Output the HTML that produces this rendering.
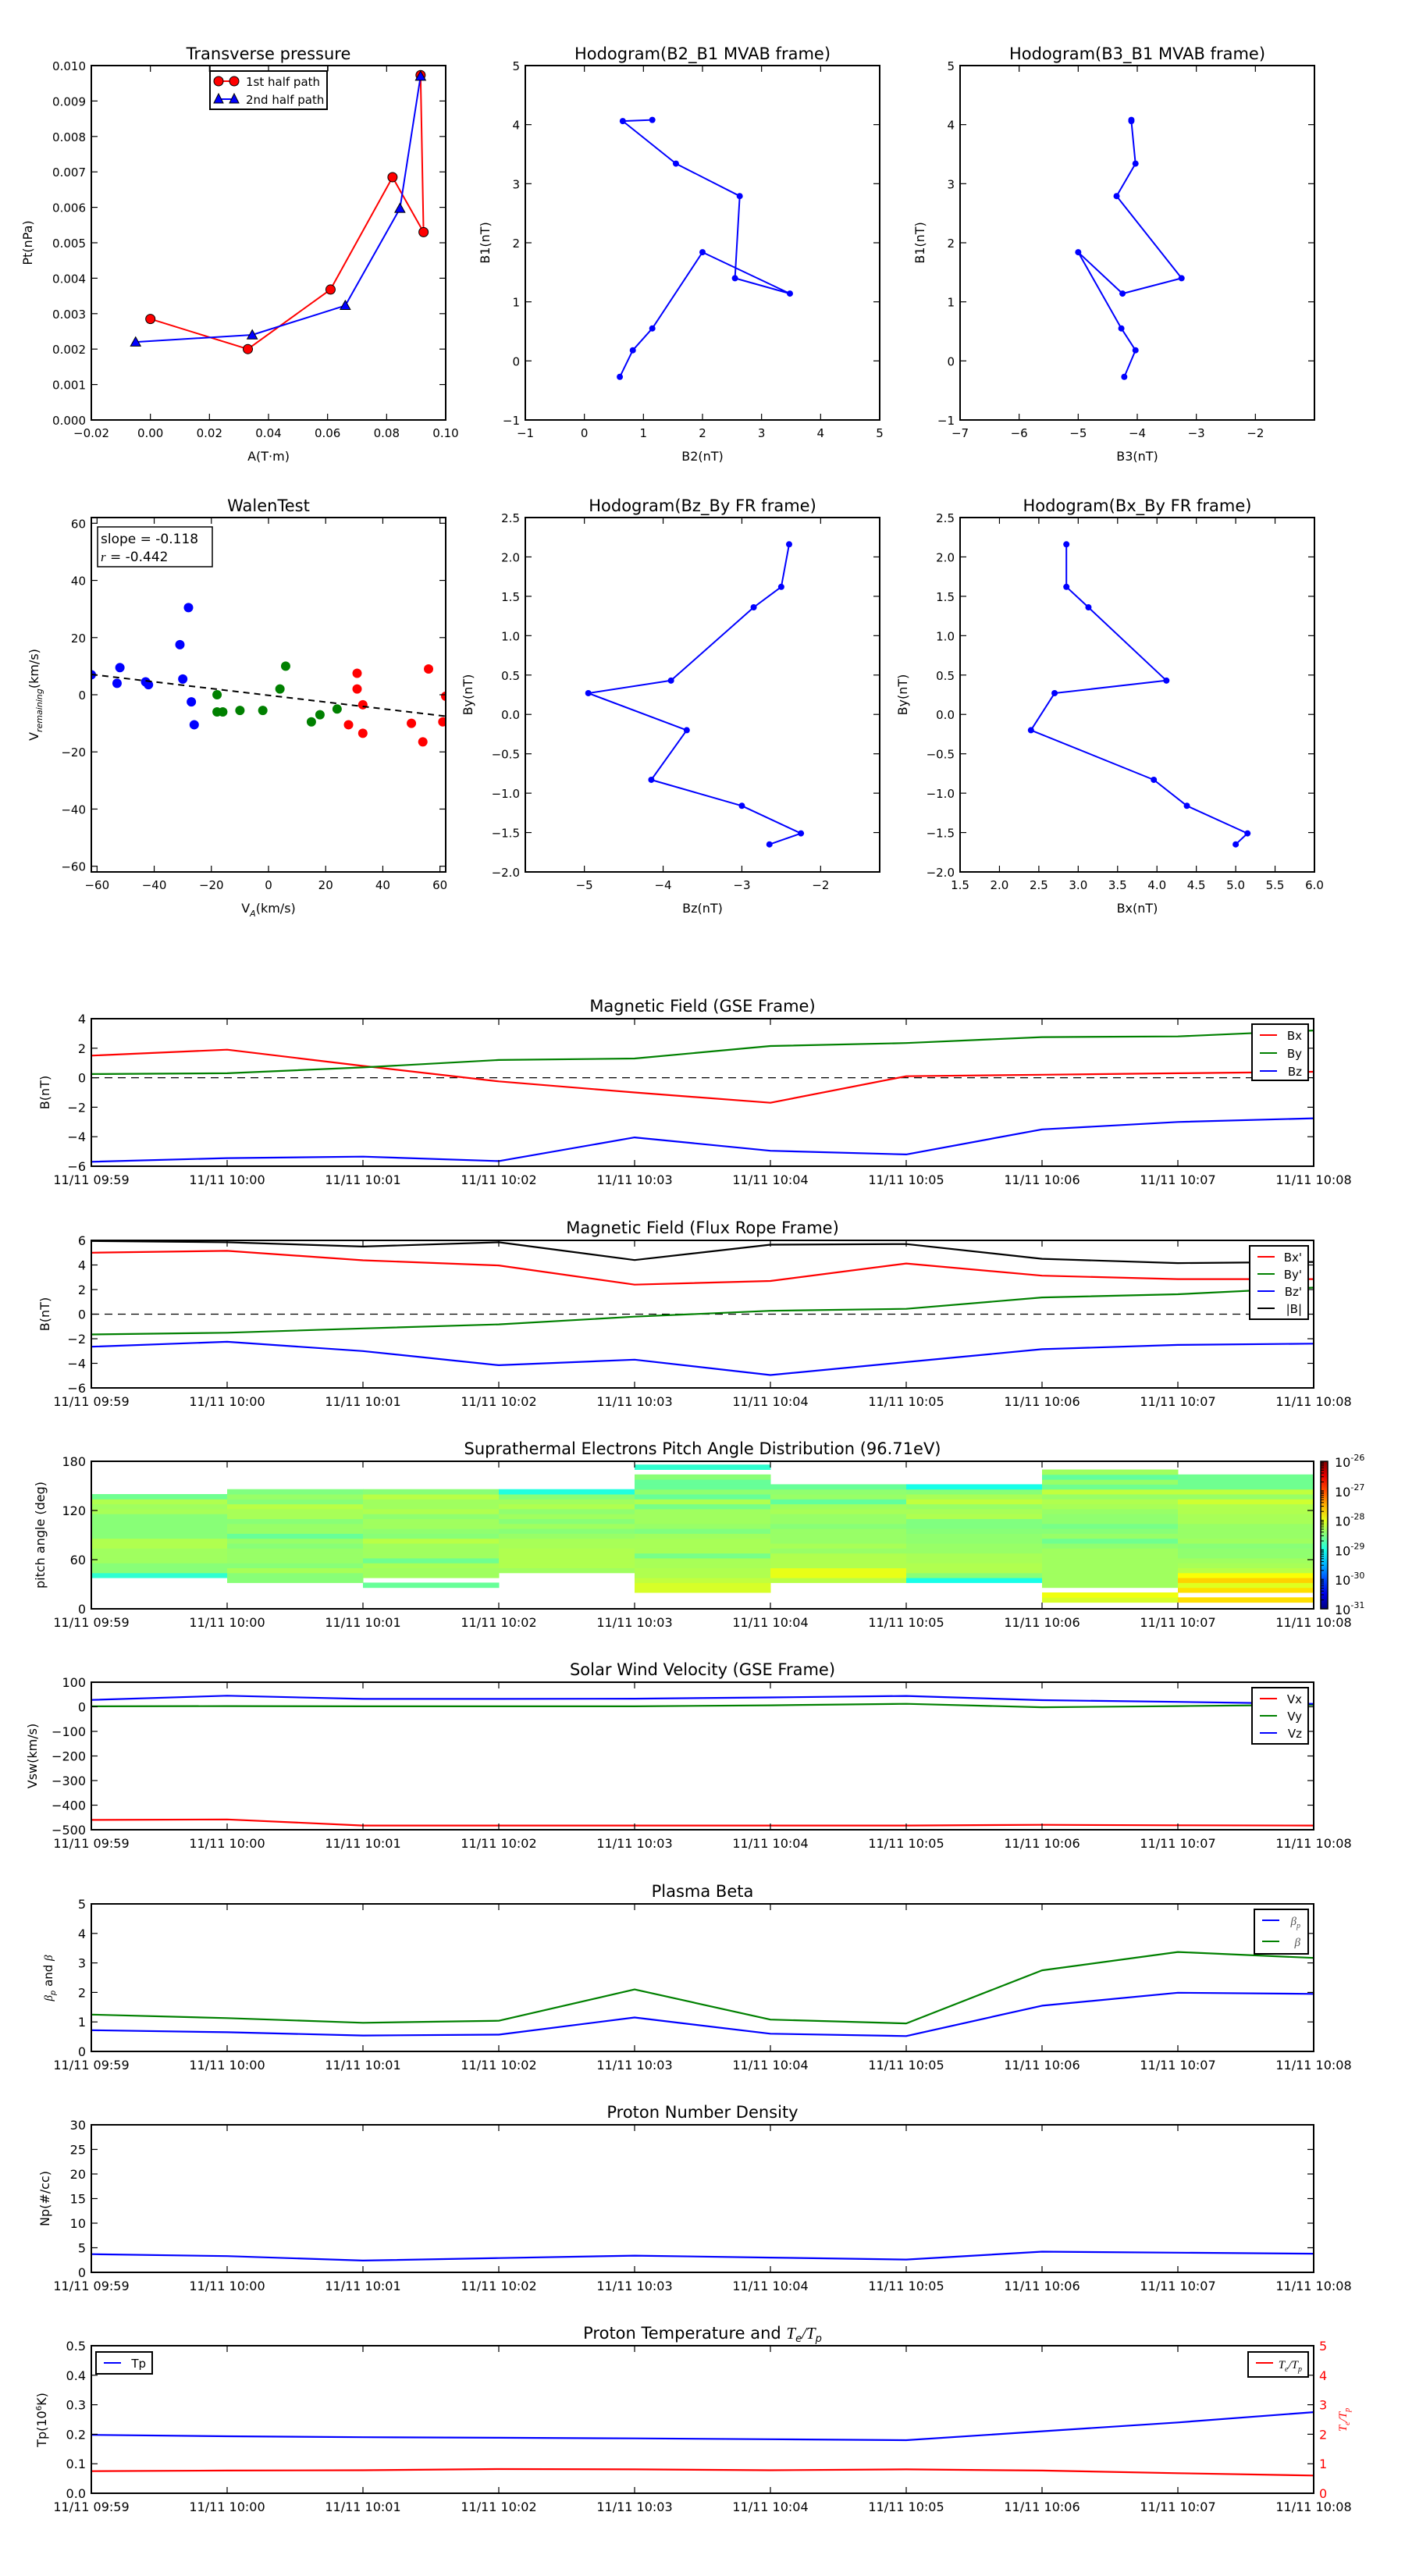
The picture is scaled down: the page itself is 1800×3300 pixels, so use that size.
<!DOCTYPE html>
<html><head><meta charset="utf-8"><title>Flux rope analysis</title>
<style>
html,body{margin:0;padding:0;background:#fff;}
svg{display:block;font-family:"DejaVu Sans","Liberation Sans",sans-serif;}
</style></head>
<body>
<svg id="fig" width="1800" height="3300" viewBox="0 0 1800 3300" xmlns="http://www.w3.org/2000/svg"></svg>
<script>
// ---------- data ----------
const ptRedA = [0.0, 0.033, 0.061, 0.082, 0.0925, 0.0915];
const ptRedP = [0.00285, 0.0020, 0.00368, 0.00685, 0.0053, 0.00973];
const ptBlueA = [-0.005, 0.0345, 0.066, 0.0845, 0.0915];
const ptBlueP = [0.0022, 0.0024, 0.00323, 0.00597, 0.0097];

const mvB1 = [-0.27, 0.18, 0.55, 1.84, 1.14, 1.40, 2.79, 3.34, 4.06, 4.08];
const mvB2 = [0.60, 0.82, 1.15, 2.00, 3.48, 2.55, 2.63, 1.55, 0.65, 1.15];
const mvB3 = [-4.22, -4.03, -4.27, -5.00, -4.25, -3.25, -4.35, -4.03, -4.10, -4.10];

const walenBlueX = [-62, -53, -52, -43, -42, -30, -31, -28, -27, -26];
const walenBlueY = [7, 4, 9.5, 4.5, 3.5, 5.5, 17.5, 30.5, -2.5, -10.5];
const walenGreenX = [-18, -18, -16, -10, -2, 4, 6, 15, 18, 24];
const walenGreenY = [0, -6, -6, -5.5, -5.5, 2, 10, -9.5, -7, -5];
const walenRedX = [28, 31, 31, 33, 33, 50, 54, 56, 61, 62];
const walenRedY = [-10.5, 2, 7.5, -3.5, -13.5, -10, -16.5, 9, -9.5, -0.5];
const walenSlope = -0.118;
const walenIntercept = -0.2;

const timeLabels = ["11/11 09:59","11/11 10:00","11/11 10:01","11/11 10:02","11/11 10:03","11/11 10:04","11/11 10:05","11/11 10:06","11/11 10:07","11/11 10:08"];
const tMin = [0,1,2,3,4,5,6,7,8,9];

const gseBx = [1.5, 1.9, 0.8, -0.25, -1.0, -1.7, 0.1, 0.2, 0.3, 0.4];
const gseBy = [0.25, 0.3, 0.7, 1.2, 1.3, 2.15, 2.35, 2.75, 2.8, 3.2];
const gseBz = [-5.7, -5.45, -5.35, -5.65, -4.05, -4.95, -5.2, -3.5, -3.0, -2.75];

const frBx = [5.0, 5.15, 4.38, 3.96, 2.40, 2.70, 4.12, 3.13, 2.85, 2.85];
const frBy = [-1.65, -1.51, -1.16, -0.83, -0.20, 0.27, 0.43, 1.36, 1.62, 2.16];
const frBz = [-2.65, -2.25, -3.0, -4.15, -3.7, -4.95, -3.9, -2.85, -2.5, -2.4];
const frBt = [5.95, 5.85, 5.5, 5.85, 4.4, 5.65, 5.7, 4.5, 4.15, 4.25];

const swVx = [-460, -458, -483, -483, -483, -483, -483, -480, -482, -483];
const swVy = [2, 3, 2, 2, 2, 6, 12, -2, 3, 8];
const swVz = [28, 45, 32, 32, 33, 38, 44, 27, 20, 12];

const betaP = [0.72, 0.65, 0.54, 0.57, 1.15, 0.60, 0.52, 1.55, 1.99, 1.95];
const betaT = [1.25, 1.13, 0.97, 1.04, 2.10, 1.08, 0.95, 2.75, 3.37, 3.17];

const np = [3.7, 3.3, 2.4, 2.9, 3.4, 3.0, 2.6, 4.2, 4.0, 3.8];
const tp = [0.198, 0.193, 0.190, 0.188, 0.186, 0.183, 0.180, 0.210, 0.240, 0.275];
const teTp = [0.75, 0.77, 0.78, 0.82, 0.81, 0.78, 0.81, 0.77, 0.68, 0.60];

// PAD: log10 flux per 6-degree bin (bin k spans 2+6k .. 8+6k deg), one array per minute column
const N = null;
const pad0 = [N,N,N,N,N,N,-28.9,-28.46,-28.46,-28.34,-28.34,-28.34,-28.26,-28.26,-28.46,-28.46,-28.46,-28.46,-28.46,-28.3,-28.34,-28.26,-28.58,N,N,N,N,N,N,N];
const pad1 = [N,N,N,N,N,-28.46,-28.46,-28.3,-28.46,-28.38,-28.38,-28.38,-28.46,-28.38,-28.62,-28.38,-28.38,-28.46,-28.3,-28.3,-28.22,-28.46,-28.38,-28.5,N,N,N,N,N,N];
const pad2 = [N,N,N,N,-28.62,N,-28.34,-28.34,-28.3,-28.58,-28.34,-28.34,-28.34,-28.22,-28.46,-28.42,-28.34,-28.34,-28.42,-28.26,-28.34,-28.34,-28.22,-28.46,N,N,N,N,N,N];
const pad3 = [N,N,N,N,N,N,N,-28.34,-28.26,-28.26,-28.26,-28.26,-28.3,-28.3,-28.38,-28.46,-28.34,-28.46,-28.34,-28.42,-28.26,-28.34,-28.46,-28.97,N,N,N,N,N,N];
const pad4 = [N,N,N,-28.07,-28.07,-28.18,-28.26,-28.26,-28.3,-28.3,-28.54,-28.3,-28.3,-28.3,-28.34,-28.5,-28.38,-28.34,-28.34,-28.34,-28.54,-28.26,-28.62,-28.42,-28.62,-28.62,-28.46,N,-28.89,N];
const pad5 = [N,N,N,N,N,-28.22,-27.99,-27.99,-28.26,-28.26,-28.26,-28.38,-28.3,-28.38,-28.38,-28.38,-28.46,-28.38,-28.38,-28.3,-28.34,-28.65,-28.38,-28.42,-28.62,N,N,N,N,N];
const pad6 = [N,N,N,N,N,-29.01,-28.46,-28.26,-28.26,-28.3,-28.3,-28.38,-28.38,-28.42,-28.42,-28.46,-28.5,-28.5,-28.26,-28.3,-28.38,-28.18,-28.3,-28.46,-29.01,N,N,N,N,N];
const pad7 = [N,-28.07,-27.95,N,-28.34,-28.34,-28.34,-28.34,-28.34,-28.34,-28.34,-28.34,-28.42,-28.58,-28.38,-28.46,-28.54,-28.42,-28.42,-28.38,-28.3,-28.26,-28.38,-28.18,-28.58,-28.38,-28.65,-28.34,N,N];
const pad8 = [N,-27.72,N,-27.72,-28.03,-27.65,-27.9,-28.22,-28.3,-28.34,-28.42,-28.42,-28.46,-28.34,-28.38,-28.38,-28.38,-28.3,-28.3,-28.26,-28.26,-28.11,-28.38,-28.18,-28.58,-28.58,-28.58,N,N,N];
const padCols = [pad0,pad1,pad2,pad3,pad4,pad5,pad6,pad7,pad8];
const cbarLabels = ["-31","-30","-29","-28","-27","-26"];

// ---------- helpers ----------
const NS = "http://www.w3.org/2000/svg";
const fig = document.getElementById("fig");
function mk(tag, attrs, parent, name, inter) {
  const e = document.createElementNS(NS, tag);
  for (const k in attrs) e.setAttribute(k, attrs[k]);
  
  
  (parent || fig).appendChild(e);
  return e;
}
function txt(x, y, s, opts, parent, name) {
  const o = Object.assign({x: x, y: y, "font-size": 16, fill: "#000"}, opts || {});
  const t = mk("text", o, parent, name, false);
  t.textContent = s;
  return t;
}
function fmt(v, d) { const s = v.toFixed(d); return s.replace("-", "\u2212"); }

function axes(name, L, T, W, H, xmin, xmax, ymin, ymax) {
  const g = mk("g", {}, fig, name, false);
  const sx = v => L + (v - xmin) / (xmax - xmin) * W;
  const sy = v => T + H - (v - ymin) / (ymax - ymin) * H;
  const plot = mk("g", {}, g, name + "-plot-area", false);
  return {g, plot, sx, sy, L, T, W, H};
}
function frame(a) {
  mk("rect", {x: a.L, y: a.T, width: a.W, height: a.H, fill: "none", stroke: "#000", "stroke-width": 2}, a.g, "axes-frame", false);
}
function xticks(a, vals, labels, fs, dy, right) {
  vals.forEach((v, i) => {
    const x = a.sx(v);
    mk("line", {x1: x, y1: a.T + a.H, x2: x, y2: a.T + a.H - 8, stroke: "#000", "stroke-width": 1.2}, a.g, "x-tick", false);
    mk("line", {x1: x, y1: a.T, x2: x, y2: a.T + 8, stroke: "#000", "stroke-width": 1.2}, a.g, "x-tick-top", false);
    if (labels[i] !== "") txt(x, a.T + a.H + (dy || 22), labels[i], {"font-size": fs || 16, "text-anchor": "middle"}, a.g, "x-tick-label");
  });
}
function yticks(a, vals, labels, fs, noRight) {
  vals.forEach((v, i) => {
    const y = a.sy(v);
    mk("line", {x1: a.L, y1: y, x2: a.L + 8, y2: y, stroke: "#000", "stroke-width": 1.2}, a.g, "y-tick", false);
    if (!noRight) mk("line", {x1: a.L + a.W, y1: y, x2: a.L + a.W - 8, y2: y, stroke: "#000", "stroke-width": 1.2}, a.g, "y-tick-right", false);
    txt(a.L - 7, y + 6, labels[i], {"font-size": fs || 16, "text-anchor": "end"}, a.g, "y-tick-label");
  });
}
function title(a, s, y) { return txt(a.L + a.W / 2, y, s, {"font-size": 21, "text-anchor": "middle"}, a.g, "chart-title"); }
function ylabel(a, s, off, opts) {
  return txt(0, 0, s, Object.assign({"font-size": 16, "text-anchor": "middle", transform: "translate(" + (a.L - off) + "," + (a.T + a.H / 2) + ") rotate(-90)"}, opts || {}), a.g, "y-axis-title");
}
function xlabel(a, s) { return txt(a.L + a.W / 2, a.T + a.H + 52, s, {"font-size": 16, "text-anchor": "middle"}, a.g, "x-axis-title"); }
function line(a, xs, ys, color, name, w) {
  const pts = xs.map((x, i) => a.sx(x).toFixed(1) + "," + a.sy(ys[i]).toFixed(1)).join(" ");
  return mk("polyline", {points: pts, fill: "none", stroke: color, "stroke-width": w || 2.2, "stroke-linejoin": "round"}, a.plot, name, false);
}
function dots(a, xs, ys, color, r, name, edge) {
  xs.forEach((x, i) => {
    mk("circle", {cx: a.sx(x), cy: a.sy(ys[i]), r: r, fill: color, stroke: edge || "none", "stroke-width": 1}, a.plot, name, false);
  });
}
function tris(a, xs, ys, color, s, name) {
  xs.forEach((x, i) => {
    const cx = a.sx(x), cy = a.sy(ys[i]);
    mk("polygon", {points: `${cx},${cy - s} ${cx - s},${cy + s * 0.8} ${cx + s},${cy + s * 0.8}`, fill: color, stroke: "#000", "stroke-width": 1}, a.plot, name, false);
  });
}
function clip(a, id) {
  const cp = mk("clipPath", {id: id}, fig, "clip-path", false);
  mk("rect", {x: a.L, y: a.T, width: a.W, height: a.H}, cp, "clip-rect", false);
  a.plot.setAttribute("clip-path", "url(#" + id + ")");
}
function range(a, b, s) { const r = []; for (let v = a; v <= b + 1e-9; v += s) r.push(+v.toFixed(6)); return r; }
function legend(parent, x, y, w, h, items, name) {
  const g = mk("g", {}, parent, name, false);
  mk("rect", {x: x, y: y, width: w, height: h, fill: "#fff", stroke: "#000", "stroke-width": 2}, g, "legend-box", false);
  items.forEach((it, i) => {
    const yy = y + 14 + i * it.step;
    mk("line", {x1: x + 10, y1: yy, x2: x + 32, y2: yy, stroke: it.color, "stroke-width": 2}, g, "legend-line", false);
    const t = txt(x + w - 8, yy + 6, it.label, Object.assign({"font-size": 15, "text-anchor": "end"}, it.opts || {}), g, "legend-label");
  });
  return g;
}

// ---------- Top row ----------
// Transverse pressure
const p1 = axes("transverse-pressure-chart", 117, 84, 454, 454, -0.02, 0.10, 0, 0.010);
clip(p1, "c1");
line(p1, ptRedA, ptRedP, "#ff0000", "first-half-path-line", 2);
line(p1, ptBlueA, ptBlueP, "#0000ff", "second-half-path-line", 2);
dots(p1, ptRedA, ptRedP, "#ff0000", 6, "first-half-point", "#000");
tris(p1, ptBlueA, ptBlueP, "#0000ff", 6.5, "second-half-point");
frame(p1);
xticks(p1, range(-0.02, 0.10, 0.02), range(-0.02, 0.10, 0.02).map(v => fmt(v, 2)), 15);
yticks(p1, range(0, 0.010, 0.001), range(0, 0.010, 0.001).map(v => fmt(v, 3)), 15);
title(p1, "Transverse pressure", 76);
xlabel(p1, "A(T\u00b7m)");
ylabel(p1, "Pt(nPa)", 76);
(function () {
  const g = mk("g", {}, p1.g, "pressure-legend", false);
  mk("polyline", {points: "269,91 269,84 420,84 420,91", fill: "none", stroke: "#000", "stroke-width": 1.5}, g, "legend-edge", false);
  mk("rect", {x: 269, y: 91, width: 150, height: 49, fill: "#fff", stroke: "#000", "stroke-width": 2}, g, "legend-box", false);
  mk("line", {x1: 280, y1: 104, x2: 300, y2: 104, stroke: "#ff0000", "stroke-width": 2}, g, "legend-line", false);
  mk("circle", {cx: 280, cy: 104, r: 6, fill: "#ff0000", stroke: "#000"}, g, "legend-marker", false);
  mk("circle", {cx: 300, cy: 104, r: 6, fill: "#ff0000", stroke: "#000"}, g, "legend-marker", false);
  txt(315, 110, "1st half path", {"font-size": 15}, g, "legend-label");
  mk("line", {x1: 280, y1: 127, x2: 300, y2: 127, stroke: "#0000ff", "stroke-width": 2}, g, "legend-line", false);
  mk("polygon", {points: "280,120 274,132 286,132", fill: "#0000ff", stroke: "#000"}, g, "legend-marker", false);
  mk("polygon", {points: "300,120 294,132 306,132", fill: "#0000ff", stroke: "#000"}, g, "legend-marker", false);
  txt(315, 133, "2nd half path", {"font-size": 15}, g, "legend-label");
})();

// Hodogram B2_B1
const p2 = axes("hodogram-b2-b1-chart", 673, 84, 454, 454, -1, 5, -1, 5);
line(p2, mvB2, mvB1, "#0000ff", "hodogram-line", 2);
dots(p2, mvB2, mvB1, "#0000ff", 4, "hodogram-point");
frame(p2);
xticks(p2, range(-1, 5, 1), range(-1, 5, 1).map(v => fmt(v, 0)), 15);
yticks(p2, range(-1, 5, 1), range(-1, 5, 1).map(v => fmt(v, 0)), 15);
title(p2, "Hodogram(B2_B1 MVAB frame)", 76);
xlabel(p2, "B2(nT)");
ylabel(p2, "B1(nT)", 46);

// Hodogram B3_B1
const p3 = axes("hodogram-b3-b1-chart", 1230, 84, 454, 454, -7, -1, -1, 5);
line(p3, mvB3, mvB1, "#0000ff", "hodogram-line", 2);
dots(p3, mvB3, mvB1, "#0000ff", 4, "hodogram-point");
frame(p3);
xticks(p3, range(-7, -1, 1), range(-7, -1, 1).map(v => v === -1 ? "" : fmt(v, 0)), 15);
yticks(p3, range(-1, 5, 1), range(-1, 5, 1).map(v => fmt(v, 0)), 15);
title(p3, "Hodogram(B3_B1 MVAB frame)", 76);
xlabel(p3, "B3(nT)");
ylabel(p3, "B1(nT)", 46);

// ---------- Second row ----------
const p4 = axes("walen-test-chart", 117, 663, 454, 454, -62, 62, -62, 62);
clip(p4, "c4");
dots(p4, walenBlueX, walenBlueY, "#0000ff", 6, "walen-point-first");
dots(p4, walenGreenX, walenGreenY, "#008000", 6, "walen-point-middle");
dots(p4, walenRedX, walenRedY, "#ff0000", 6, "walen-point-last");
mk("line", {x1: p4.sx(-62), y1: p4.sy(walenSlope * -62 + walenIntercept), x2: p4.sx(62), y2: p4.sy(walenSlope * 62 + walenIntercept), stroke: "#000", "stroke-width": 2, "stroke-dasharray": "8,6"}, p4.plot, "walen-fit-line", false);
frame(p4);
xticks(p4, range(-60, 60, 20), range(-60, 60, 20).map(v => fmt(v, 0)), 15);
yticks(p4, range(-60, 60, 20), range(-60, 60, 20).map(v => fmt(v, 0)), 15);
title(p4, "WalenTest", 655);
(function () {
  const g = mk("g", {}, p4.g, "walen-stats-box", false);
  mk("rect", {x: 125, y: 675, width: 147, height: 51, fill: "#fff", stroke: "#000", "stroke-width": 1.5}, g, "stats-box", false);
  txt(129, 696, "slope = -0.118", {"font-size": 17}, g, "slope-text");
  const t = txt(129, 719, "", {"font-size": 17}, g, "r-text");
  t.innerHTML = '<tspan font-style="italic" font-family="Liberation Serif, serif">r</tspan> = -0.442';
})();
(function () {
  const t = txt(0, 0, "", {"font-size": 16, "text-anchor": "middle", transform: "translate(" + (117 - 68) + "," + (663 + 227) + ") rotate(-90)"}, p4.g, "y-axis-title");
  t.innerHTML = 'V<tspan font-size="11" font-style="italic" dy="5">remaining</tspan><tspan dy="-5">(km/s)</tspan>';
  const x = txt(117 + 227, 663 + 454 + 52, "", {"font-size": 16, "text-anchor": "middle"}, p4.g, "x-axis-title");
  x.innerHTML = 'V<tspan font-size="11" font-style="italic" dy="5">A</tspan><tspan dy="-5">(km/s)</tspan>';
})();

const p5 = axes("hodogram-bz-by-chart", 673, 663, 454, 454, -5.75, -1.25, -2, 2.5);
line(p5, frBz, frBy, "#0000ff", "hodogram-line", 2);
dots(p5, frBz, frBy, "#0000ff", 4, "hodogram-point");
frame(p5);
xticks(p5, range(-5, -2, 1), range(-5, -2, 1).map(v => fmt(v, 0)), 15);
yticks(p5, range(-2, 2.5, 0.5), range(-2, 2.5, 0.5).map(v => fmt(v, 1)), 15);
title(p5, "Hodogram(Bz_By FR frame)", 655);
xlabel(p5, "Bz(nT)");
ylabel(p5, "By(nT)", 68);

const p6 = axes("hodogram-bx-by-chart", 1230, 663, 454, 454, 1.5, 6, -2, 2.5);
line(p6, frBx, frBy, "#0000ff", "hodogram-line", 2);
dots(p6, frBx, frBy, "#0000ff", 4, "hodogram-point");
frame(p6);
xticks(p6, range(1.5, 6, 0.5), range(1.5, 6, 0.5).map(v => fmt(v, 1)), 15);
yticks(p6, range(-2, 2.5, 0.5), range(-2, 2.5, 0.5).map(v => fmt(v, 1)), 15);
title(p6, "Hodogram(Bx_By FR frame)", 655);
xlabel(p6, "Bx(nT)");
ylabel(p6, "By(nT)", 68);

// ---------- Time series ----------
const TL = 117, TW = 1566, TH = 189;
const tops = [1305, 1589, 1872, 2155, 2439, 2722, 3005];
function tsAxes(name, i, ymin, ymax) {
  const a = axes(name, TL, tops[i], TW, TH, 0, 9, ymin, ymax);
  clip(a, "ct" + i);
  return a;
}
function tsFinish(a, yv, yl, ttl, noRight) {
  frame(a);
  xticks(a, tMin, timeLabels, 16, 23);
  yticks(a, yv, yl, 16, noRight);
  title(a, ttl, a.T - 9);
}
function zeroLine(a) {
  mk("line", {x1: a.L, y1: a.sy(0), x2: a.L + a.W, y2: a.sy(0), stroke: "#000", "stroke-width": 1.3, "stroke-dasharray": "10,7"}, a.plot, "zero-line", false);
}

// GSE
const t1 = tsAxes("magnetic-field-gse-chart", 0, -6, 4);
zeroLine(t1);
line(t1, tMin, gseBx, "#ff0000", "bx-line");
line(t1, tMin, gseBy, "#008000", "by-line");
line(t1, tMin, gseBz, "#0000ff", "bz-line");
tsFinish(t1, range(-6, 4, 2), range(-6, 4, 2).map(v => fmt(v, 0)), "Magnetic Field (GSE Frame)");
ylabel(t1, "B(nT)", 54);
legend(t1.g, 1604, 1312, 72, 72, [{color: "#ff0000", label: "Bx", step: 23}, {color: "#008000", label: "By", step: 23}, {color: "#0000ff", label: "Bz", step: 23}], "gse-legend");

// FR
const t2 = tsAxes("magnetic-field-flux-rope-chart", 1, -6, 6);
zeroLine(t2);
line(t2, tMin, frBx, "#ff0000", "bx-prime-line");
line(t2, tMin, frBy, "#008000", "by-prime-line");
line(t2, tMin, frBz, "#0000ff", "bz-prime-line");
line(t2, tMin, frBt, "#000000", "b-magnitude-line");
tsFinish(t2, range(-6, 6, 2), range(-6, 6, 2).map(v => fmt(v, 0)), "Magnetic Field (Flux Rope Frame)");
ylabel(t2, "B(nT)", 54);
legend(t2.g, 1601, 1596, 75, 94, [{color: "#ff0000", label: "Bx'", step: 22}, {color: "#008000", label: "By'", step: 22}, {color: "#0000ff", label: "Bz'", step: 22}, {color: "#000000", label: "|B|", step: 22}], "flux-rope-legend");

// PAD heatmap
function jet(t) {
  const c = v => Math.round(255 * Math.max(0, Math.min(1, v)));
  return `rgb(${c(1.5 - Math.abs(4 * t - 3))},${c(1.5 - Math.abs(4 * t - 2))},${c(1.5 - Math.abs(4 * t - 1))})`;
}
const t3 = tsAxes("pitch-angle-distribution-chart", 2, 0, 180);
padCols.forEach((col, ci) => {
  col.forEach((v, k) => {
    if (v === null) return;
    const lo = Math.max(0, 2 + 6 * k), hi = Math.min(180, 8 + 6 * k);
    const y1 = t3.sy(hi), y2 = t3.sy(lo);
    mk("rect", {x: t3.sx(ci), y: y1, width: t3.sx(ci + 1) - t3.sx(ci) + 0.5, height: y2 - y1 + 0.5, fill: jet((v + 31) / 5)}, t3.plot, "pad-cell", false);
  });
});
tsFinish(t3, [0, 60, 120, 180], ["0", "60", "120", "180"], "Suprathermal Electrons Pitch Angle Distribution (96.71eV)");
ylabel(t3, "pitch angle (deg)", 60);
(function () {
  const g = mk("g", {}, t3.g, "colorbar", false);
  const defs = mk("defs", {}, g, "colorbar-defs", false);
  const lg = mk("linearGradient", {id: "jetg", x1: 0, y1: 1, x2: 0, y2: 0}, defs, "colorbar-gradient", false);
  for (let i = 0; i <= 10; i++) mk("stop", {offset: i / 10, "stop-color": jet(i / 10)}, lg, "gradient-stop", false);
  mk("rect", {x: 1692, y: 1872, width: 9, height: 189, fill: "url(#jetg)", stroke: "#000", "stroke-width": 1.5}, g, "colorbar-bar", false);
  cbarLabels.forEach((s, i) => {
    const y = 2061 - i * 189 / 5;
    const t = txt(1710, y + 7, "", {"font-size": 16}, g, "colorbar-label");
    t.innerHTML = '10<tspan font-size="11" dy="-8">' + s + '</tspan>';
    for (let m = 1; m < 10 && i < 5; m++) {
      const yy = y - Math.log10(m) * 189 / 5;
      mk("line", {x1: 1692, y1: yy, x2: 1696, y2: yy, stroke: "#000", "stroke-width": 1}, g, "colorbar-tick", false);
    }
  });
})();

// Solar wind
const t4 = tsAxes("solar-wind-velocity-chart", 3, -500, 100);
line(t4, tMin, swVx, "#ff0000", "vx-line");
line(t4, tMin, swVy, "#008000", "vy-line");
line(t4, tMin, swVz, "#0000ff", "vz-line");
tsFinish(t4, range(-500, 100, 100), range(-500, 100, 100).map(v => fmt(v, 0)), "Solar Wind Velocity (GSE Frame)");
ylabel(t4, "Vsw(km/s)", 70);
legend(t4.g, 1604, 2162, 72, 72, [{color: "#ff0000", label: "Vx", step: 22}, {color: "#008000", label: "Vy", step: 22}, {color: "#0000ff", label: "Vz", step: 22}], "velocity-legend");

// Plasma beta
const t5 = tsAxes("plasma-beta-chart", 4, 0, 5);
line(t5, tMin, betaP, "#0000ff", "beta-p-line");
line(t5, tMin, betaT, "#008000", "beta-line");
tsFinish(t5, range(0, 5, 1), range(0, 5, 1).map(v => fmt(v, 0)), "Plasma Beta");
(function () {
  const t = txt(0, 0, "", {"font-size": 15, "text-anchor": "middle", transform: "translate(" + (TL - 50) + "," + (tops[4] + 95) + ") rotate(-90)"}, t5.g, "y-axis-title");
  t.innerHTML = '<tspan font-style="italic" font-family="Liberation Serif, serif">\u03b2</tspan><tspan font-size="10" font-style="italic" dy="4">p</tspan><tspan dy="-4"> and </tspan><tspan font-style="italic" font-family="Liberation Serif, serif">\u03b2</tspan>';
  const lg = legend(t5.g, 1607, 2446, 69, 57, [{color: "#0000ff", label: "", step: 27}, {color: "#008000", label: "", step: 27}], "beta-legend");
  const a = txt(1666, 2466, "", {"font-size": 15, "text-anchor": "end", fill: "#555", "font-style": "italic", "font-family": "Liberation Serif, serif"}, lg, "legend-label");
  a.innerHTML = '\u03b2<tspan font-size="10" dy="4">p</tspan>';
  txt(1666, 2493, "\u03b2", {"font-size": 15, "text-anchor": "end", fill: "#555", "font-style": "italic", "font-family": "Liberation Serif, serif"}, lg, "legend-label");
})();

// Proton density
const t6 = tsAxes("proton-density-chart", 5, 0, 30);
line(t6, tMin, np, "#0000ff", "np-line");
tsFinish(t6, range(0, 30, 5), range(0, 30, 5).map(v => fmt(v, 0)), "Proton Number Density");
ylabel(t6, "Np(#/cc)", 54);

// Proton temperature
const t7 = tsAxes("proton-temperature-chart", 6, 0, 0.5);
const sy2 = v => tops[6] + TH - v / 5 * TH;
line(t7, tMin, tp, "#0000ff", "tp-line");
mk("polyline", {points: tMin.map((x, i) => t7.sx(x).toFixed(1) + "," + sy2(teTp[i]).toFixed(1)).join(" "), fill: "none", stroke: "#ff0000", "stroke-width": 2.2}, t7.plot, "te-tp-line", false);
frame(t7);
xticks(t7, tMin, timeLabels, 16, 23);
yticks(t7, range(0, 0.5, 0.1), range(0, 0.5, 0.1).map(v => fmt(v, 1)), 16, true);
range(0, 5, 1).forEach(v => {
  mk("line", {x1: TL + TW, y1: sy2(v), x2: TL + TW - 8, y2: sy2(v), stroke: "#000", "stroke-width": 1.2}, t7.g, "right-y-tick", false);
  txt(TL + TW + 7, sy2(v) + 6, String(v), {"font-size": 16, fill: "#ff0000"}, t7.g, "right-y-tick-label");
});
(function () {
  const t = txt(TL + TW / 2, tops[6] - 9, "", {"font-size": 21, "text-anchor": "middle"}, t7.g, "chart-title");
  t.innerHTML = 'Proton Temperature and <tspan font-style="italic" font-family="Liberation Serif, serif">T</tspan><tspan font-size="13" font-style="italic" dy="4">e</tspan><tspan dy="-4" font-family="Liberation Serif, serif" font-style="italic">/T</tspan><tspan font-size="13" font-style="italic" dy="4">p</tspan>';
  const y = txt(0, 0, "", {"font-size": 16, "text-anchor": "middle", transform: "translate(" + (TL - 58) + "," + (tops[6] + 95) + ") rotate(-90)"}, t7.g, "y-axis-title");
  y.innerHTML = 'Tp(10<tspan font-size="10" dy="-6">6</tspan><tspan dy="6">K)</tspan>';
  const r = txt(0, 0, "", {"font-size": 15, "text-anchor": "middle", fill: "#ff0000", "font-style": "italic", "font-family": "Liberation Serif, serif", transform: "translate(" + (TL + TW + 42) + "," + (tops[6] + 95) + ") rotate(-90)"}, t7.g, "right-y-axis-title");
  r.innerHTML = 'T<tspan font-size="10" dy="4">e</tspan><tspan dy="-4">/T</tspan><tspan font-size="10" dy="4">p</tspan>';
  legend(t7.g, 123, 3013, 72, 28, [{color: "#0000ff", label: "Tp", step: 0}], "tp-legend");
  const lg = legend(t7.g, 1599, 3013, 77, 32, [{color: "#ff0000", label: "", step: 0}], "te-tp-legend");
  const l = txt(1668, 3034, "", {"font-size": 15, "text-anchor": "end", "font-style": "italic", "font-family": "Liberation Serif, serif"}, lg, "legend-label");
  l.innerHTML = 'T<tspan font-size="10" dy="4">e</tspan><tspan dy="-4">/T</tspan><tspan font-size="10" dy="4">p</tspan>';
})();
</script>
</body></html>
